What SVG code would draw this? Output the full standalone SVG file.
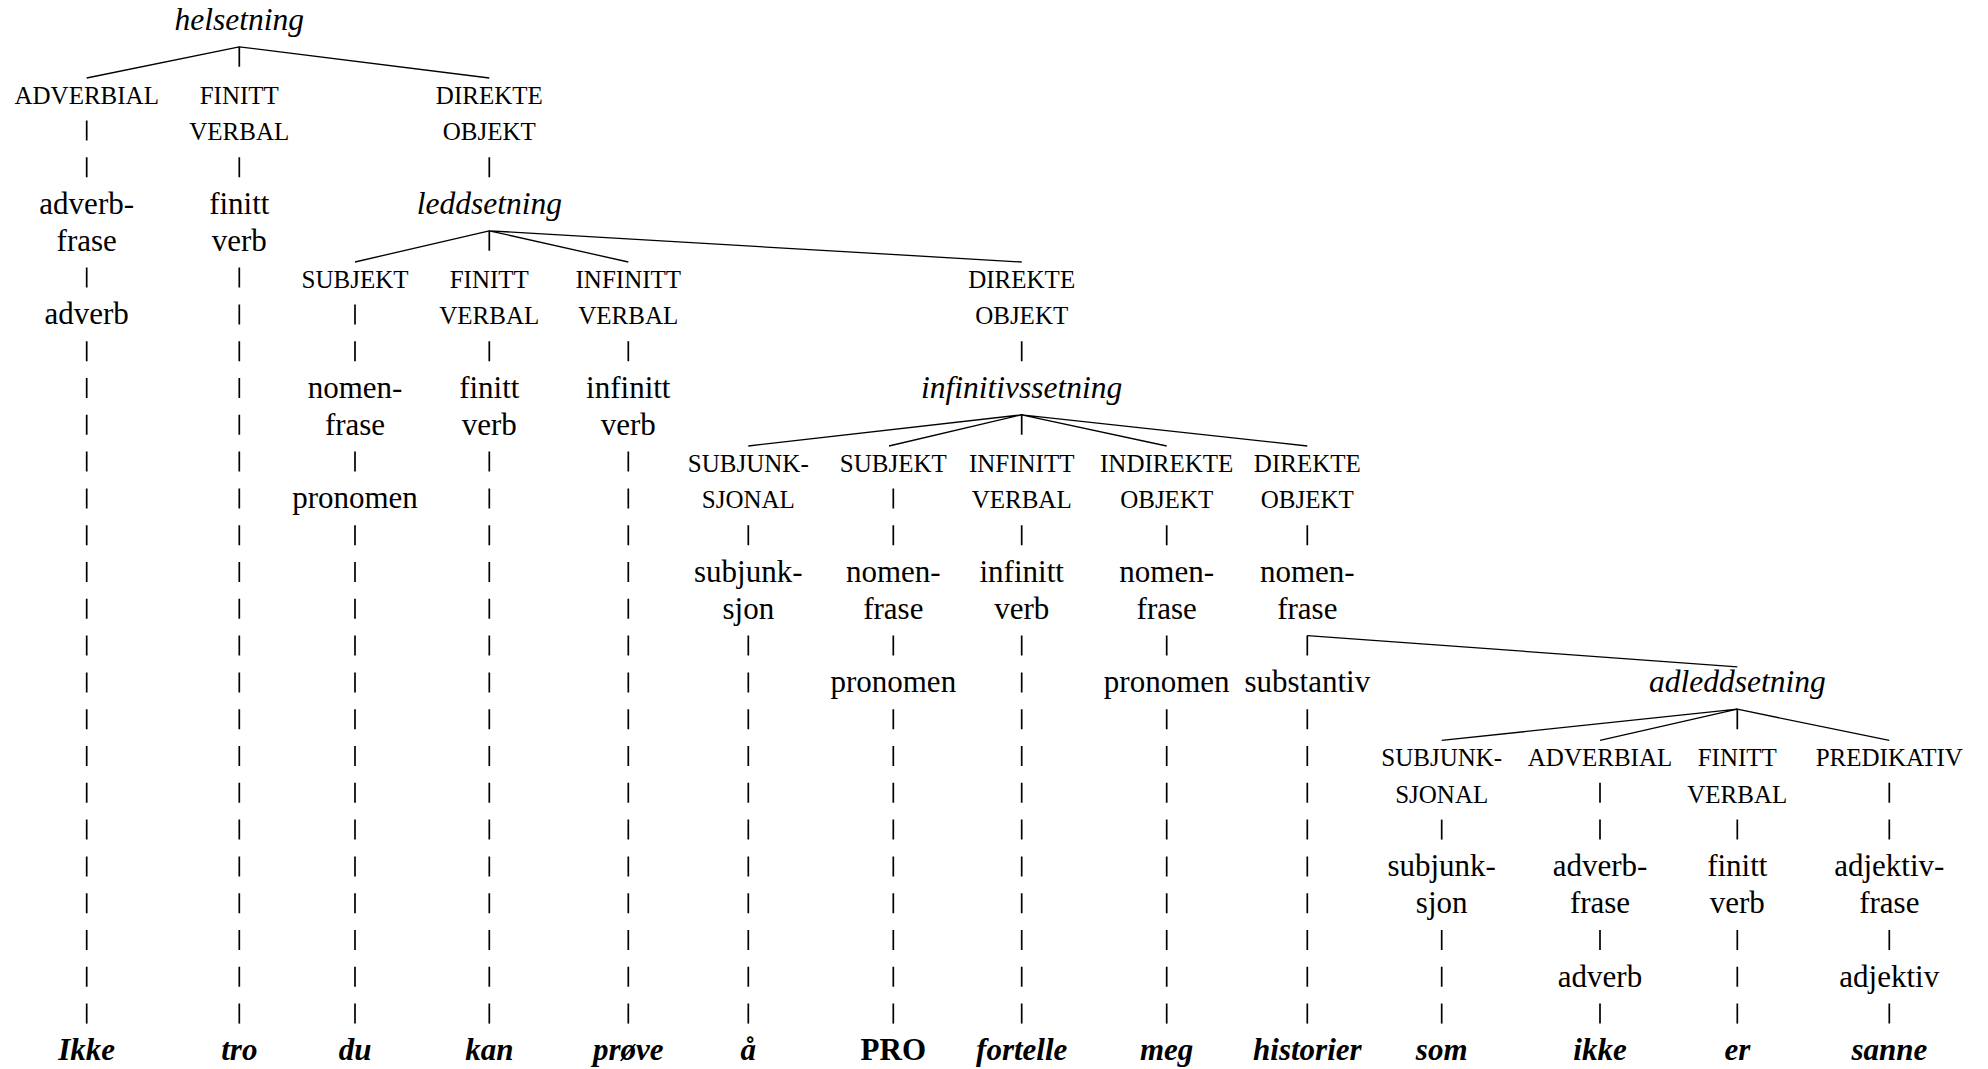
<svg xmlns="http://www.w3.org/2000/svg" width="1988" height="1069" viewBox="0 0 1988 1069">
<style>
text{text-anchor:middle;fill:#000;font-family:"Liberation Serif","Times New Roman",serif}
.c{font-size:25px}
.r{font-size:31px}
.i{font-size:31.5px;font-style:italic}
.w{font-size:31px;font-style:italic;font-weight:bold}
.p{font-size:31px;font-weight:bold}
.bar{stroke:#000;stroke-width:1.7;fill:none}
.run{stroke:#000;stroke-width:1.7;fill:none;stroke-dasharray:20 16.8}
.ln{stroke:#000;stroke-width:1.3;fill:none}
</style>
<rect width="1988" height="1069" fill="#fff"/>
<g id="connectors">
<path class="bar" d="M86.7 120.4V140.4M86.7 157.2V177.2M86.7 267.6V287.6"/>
<path class="run" d="M86.7 341.2V1023.6"/>
<path class="bar" d="M239.3 46.8V66.8M239.3 157.2V177.2"/>
<path class="run" d="M239.3 267.6V1023.6"/>
<path class="bar" d="M355 304.4V324.4M355 341.2V361.2M355 451.6V471.6"/>
<path class="run" d="M355 525.2V1023.6"/>
<path class="bar" d="M489.3 157.2V177.2M489.3 230.8V250.8M489.3 341.2V361.2"/>
<path class="run" d="M489.3 451.6V1023.6"/>
<path class="bar" d="M628.3 341.2V361.2"/>
<path class="run" d="M628.3 451.6V1023.6"/>
<path class="bar" d="M748.3 525.2V545.2"/>
<path class="run" d="M748.3 635.6V1023.6"/>
<path class="bar" d="M893.3 488.4V508.4M893.3 525.2V545.2M893.3 635.6V655.6"/>
<path class="run" d="M893.3 709.2V1023.6"/>
<path class="bar" d="M1021.7 341.2V361.2M1021.7 414.8V434.8M1021.7 525.2V545.2"/>
<path class="run" d="M1021.7 635.6V1023.6"/>
<path class="bar" d="M1166.7 525.2V545.2M1166.7 635.6V655.6"/>
<path class="run" d="M1166.7 709.2V1023.6"/>
<path class="bar" d="M1307.3 525.2V545.2M1307.3 635.6V655.6"/>
<path class="run" d="M1307.3 709.2V1023.6"/>
<path class="bar" d="M1441.7 819.6V839.6"/>
<path class="run" d="M1441.7 930V1023.6"/>
<path class="bar" d="M1600 782.8V802.8M1600 819.6V839.6M1600 930V950M1600 1003.6V1023.6"/>
<path class="bar" d="M1737.3 709.2V729.2M1737.3 819.6V839.6"/>
<path class="run" d="M1737.3 930V1023.6"/>
<path class="bar" d="M1889.3 782.8V802.8M1889.3 819.6V839.6M1889.3 930V950M1889.3 1003.6V1023.6"/>
<path class="ln" d="M239.3 46.8L86.7 78M239.3 46.8L489.3 78"/>
<path class="ln" d="M489.3 230.8L355 262M489.3 230.8L628.3 262M489.3 230.8L1021.7 262"/>
<path class="ln" d="M1021.7 414.8L748.3 446M1021.7 414.8L889 446M1021.7 414.8L1166.7 446M1021.7 414.8L1307.3 446"/>
<path class="ln" d="M1307.3 635.6L1737.3 666.8"/>
<path class="ln" d="M1737.3 709.2L1441.7 740.4M1737.3 709.2L1600 740.4M1737.3 709.2L1889.3 740.4"/>
</g>
<g id="col0">
<text class="c" x="86.7" y="103.6">ADVERBIAL</text>
<text class="r" x="86.7" y="214">adverb-</text>
<text class="r" x="86.7" y="250.8">frase</text>
<text class="r" x="86.7" y="324.4">adverb</text>
<text class="w" x="86.7" y="1060.4">Ikke</text>
</g>
<g id="col1">
<text class="i" x="239.3" y="30">helsetning</text>
<text class="c" x="239.3" y="103.6">FINITT</text>
<text class="c" x="239.3" y="140.4">VERBAL</text>
<text class="r" x="239.3" y="214">finitt</text>
<text class="r" x="239.3" y="250.8">verb</text>
<text class="w" x="239.3" y="1060.4">tro</text>
</g>
<g id="col2">
<text class="c" x="355" y="287.6">SUBJEKT</text>
<text class="r" x="355" y="398">nomen-</text>
<text class="r" x="355" y="434.8">frase</text>
<text class="r" x="355" y="508.4">pronomen</text>
<text class="w" x="355" y="1060.4">du</text>
</g>
<g id="col3">
<text class="c" x="489.3" y="103.6">DIREKTE</text>
<text class="c" x="489.3" y="140.4">OBJEKT</text>
<text class="i" x="489.3" y="214">leddsetning</text>
<text class="c" x="489.3" y="287.6">FINITT</text>
<text class="c" x="489.3" y="324.4">VERBAL</text>
<text class="r" x="489.3" y="398">finitt</text>
<text class="r" x="489.3" y="434.8">verb</text>
<text class="w" x="489.3" y="1060.4">kan</text>
</g>
<g id="col4">
<text class="c" x="628.3" y="287.6">INFINITT</text>
<text class="c" x="628.3" y="324.4">VERBAL</text>
<text class="r" x="628.3" y="398">infinitt</text>
<text class="r" x="628.3" y="434.8">verb</text>
<text class="w" x="628.3" y="1060.4">prøve</text>
</g>
<g id="col5">
<text class="c" x="748.3" y="471.6">SUBJUNK-</text>
<text class="c" x="748.3" y="508.4">SJONAL</text>
<text class="r" x="748.3" y="582">subjunk-</text>
<text class="r" x="748.3" y="618.8">sjon</text>
<text class="w" x="748.3" y="1060.4">å</text>
</g>
<g id="col6">
<text class="c" x="893.3" y="471.6">SUBJEKT</text>
<text class="r" x="893.3" y="582">nomen-</text>
<text class="r" x="893.3" y="618.8">frase</text>
<text class="r" x="893.3" y="692.4">pronomen</text>
<text class="p" x="893.3" y="1060.4">PRO</text>
</g>
<g id="col7">
<text class="c" x="1021.7" y="287.6">DIREKTE</text>
<text class="c" x="1021.7" y="324.4">OBJEKT</text>
<text class="i" x="1021.7" y="398">infinitivssetning</text>
<text class="c" x="1021.7" y="471.6">INFINITT</text>
<text class="c" x="1021.7" y="508.4">VERBAL</text>
<text class="r" x="1021.7" y="582">infinitt</text>
<text class="r" x="1021.7" y="618.8">verb</text>
<text class="w" x="1021.7" y="1060.4">fortelle</text>
</g>
<g id="col8">
<text class="c" x="1166.7" y="471.6">INDIREKTE</text>
<text class="c" x="1166.7" y="508.4">OBJEKT</text>
<text class="r" x="1166.7" y="582">nomen-</text>
<text class="r" x="1166.7" y="618.8">frase</text>
<text class="r" x="1166.7" y="692.4">pronomen</text>
<text class="w" x="1166.7" y="1060.4">meg</text>
</g>
<g id="col9">
<text class="c" x="1307.3" y="471.6">DIREKTE</text>
<text class="c" x="1307.3" y="508.4">OBJEKT</text>
<text class="r" x="1307.3" y="582">nomen-</text>
<text class="r" x="1307.3" y="618.8">frase</text>
<text class="r" x="1307.3" y="692.4">substantiv</text>
<text class="w" x="1307.3" y="1060.4">historier</text>
</g>
<g id="col10">
<text class="c" x="1441.7" y="766">SUBJUNK-</text>
<text class="c" x="1441.7" y="802.8">SJONAL</text>
<text class="r" x="1441.7" y="876.4">subjunk-</text>
<text class="r" x="1441.7" y="913.2">sjon</text>
<text class="w" x="1441.7" y="1060.4">som</text>
</g>
<g id="col11">
<text class="c" x="1600" y="766">ADVERBIAL</text>
<text class="r" x="1600" y="876.4">adverb-</text>
<text class="r" x="1600" y="913.2">frase</text>
<text class="r" x="1600" y="986.8">adverb</text>
<text class="w" x="1600" y="1060.4">ikke</text>
</g>
<g id="col12">
<text class="i" x="1737.3" y="692.4">adleddsetning</text>
<text class="c" x="1737.3" y="766">FINITT</text>
<text class="c" x="1737.3" y="802.8">VERBAL</text>
<text class="r" x="1737.3" y="876.4">finitt</text>
<text class="r" x="1737.3" y="913.2">verb</text>
<text class="w" x="1737.3" y="1060.4">er</text>
</g>
<g id="col13">
<text class="c" x="1889.3" y="766">PREDIKATIV</text>
<text class="r" x="1889.3" y="876.4">adjektiv-</text>
<text class="r" x="1889.3" y="913.2">frase</text>
<text class="r" x="1889.3" y="986.8">adjektiv</text>
<text class="w" x="1889.3" y="1060.4">sanne</text>
</g>
</svg>
